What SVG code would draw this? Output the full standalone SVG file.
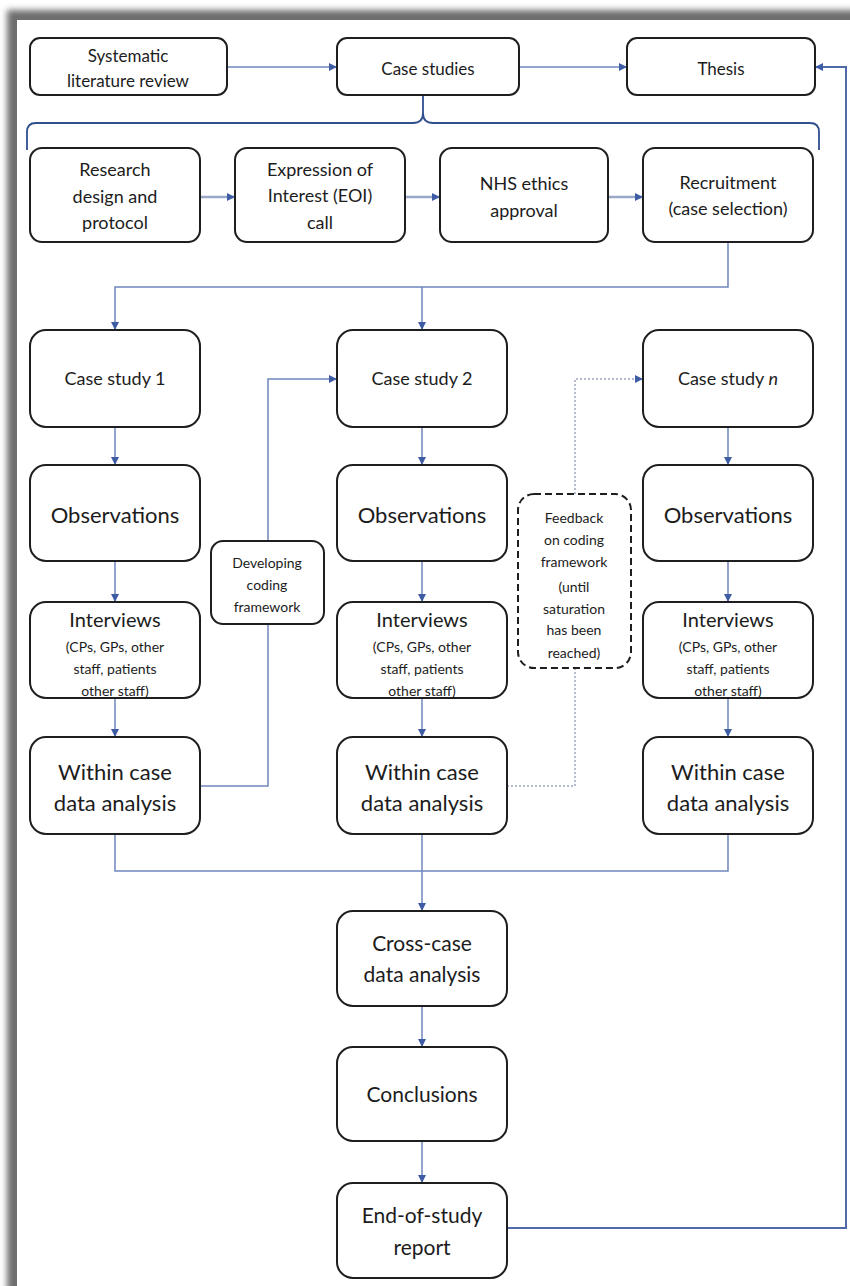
<svg xmlns="http://www.w3.org/2000/svg" width="850" height="1286" viewBox="0 0 850 1286">
  <defs>
    <filter id="soft" x="-5%" y="-5%" width="110%" height="110%">
      <feGaussianBlur stdDeviation="3"/>
    </filter>
    <marker id="arrow" viewBox="0 0 8 8" refX="8" refY="4" markerWidth="8" markerHeight="8" markerUnits="userSpaceOnUse" orient="auto">
      <path d="M0,0 L8,4 L0,8 z" fill="#3d5ca3"/>
    </marker>
    <style>
      .box { fill: #ffffff; stroke: #1e1e1e; stroke-width: 2; }
      .dash { fill: #ffffff; stroke: #1e1e1e; stroke-width: 2; stroke-dasharray: 7 4; }
      .t { font-family: Lato, "Liberation Sans", sans-serif; fill: #1c1c1c; text-anchor: middle; dominant-baseline: central; }
      .s17 { font-size: 17px; }
      .s18 { font-size: 18px; }
      .s20 { font-size: 20px; }
      .s21 { font-size: 21px; }
      .s22 { font-size: 22px; }
      .s14 { font-size: 14px; }
      .line { fill: none; stroke: #6f86bd; stroke-width: 1.5; }
      .thick { fill: none; stroke: #9aa8c8; stroke-width: 2.5; }
      .dark { fill: none; stroke: #4f6aa8; stroke-width: 2; }
      .dot { fill: none; stroke: #9aa5c0; stroke-width: 1.5; stroke-dasharray: 2 2; }
      .brace { fill: none; stroke: #2f4f8f; stroke-width: 1.8; }
    </style>
  </defs>

  <!-- page frame with shadow on top and left -->
  <rect x="0" y="0" width="850" height="1286" fill="#ffffff"/>
  <rect x="7" y="10" width="870" height="1300" fill="#6e6e6e" filter="url(#soft)"/>
  <rect x="17" y="20" width="840" height="1280" fill="#ffffff"/>

  <!-- connectors -->
  <g id="connectors">
    <path class="line" d="M227,67 H337" marker-end="url(#arrow)"/>
    <path class="line" d="M519,67 H627" marker-end="url(#arrow)"/>
    <path class="brace" d="M27,150 V132 Q27,123 36,123 H413 Q423,123 423,113 V95 M819,150 V132 Q819,123 810,123 H433 Q423,123 423,113"/>
    <path class="thick" d="M200,197 H235" marker-end="url(#arrow)"/>
    <path class="thick" d="M405,197 H440" marker-end="url(#arrow)"/>
    <path class="thick" d="M608,197 H643" marker-end="url(#arrow)"/>
    <path class="line" d="M728,242 V287 H115 V330" marker-end="url(#arrow)"/>
    <path class="line" d="M422,287 V330" marker-end="url(#arrow)"/>
    <path class="line" d="M115,427 V465" marker-end="url(#arrow)"/>
    <path class="line" d="M115,561 V602" marker-end="url(#arrow)"/>
    <path class="line" d="M115,698 V737" marker-end="url(#arrow)"/>
    <path class="line" d="M422,427 V465" marker-end="url(#arrow)"/>
    <path class="line" d="M422,561 V602" marker-end="url(#arrow)"/>
    <path class="line" d="M422,698 V737" marker-end="url(#arrow)"/>
    <path class="line" d="M728,427 V465" marker-end="url(#arrow)"/>
    <path class="line" d="M728,561 V602" marker-end="url(#arrow)"/>
    <path class="line" d="M728,698 V737" marker-end="url(#arrow)"/>
    <path class="line" d="M200,786 H268 V624"/>
    <path class="line" d="M268,541 V379 H337" marker-end="url(#arrow)"/>
    <path class="dot" d="M507,786 H575 V668"/>
    <path class="dot" d="M575,494 V379 H643" marker-end="url(#arrow)"/>
    <path class="line" d="M115,834 V871 H728 V834"/>
    <path class="line" d="M422,834 V911" marker-end="url(#arrow)"/>
    <path class="line" d="M422,1006 V1047" marker-end="url(#arrow)"/>
    <path class="line" d="M422,1141 V1183" marker-end="url(#arrow)"/>
    <path class="dark" d="M507,1228 H846 V67 H815" marker-end="url(#arrow)"/>
  </g>

  <!-- top row -->
  <g id="slr">
    <rect class="box" x="30" y="38" width="197" height="57" rx="10"/>
    <text class="t s17" x="128" y="55">Systematic</text>
    <text class="t s17" x="128" y="80">literature review</text>
  </g>
  <g id="case-studies">
    <rect class="box" x="337" y="38" width="182" height="57" rx="10"/>
    <text class="t s17" x="428" y="68">Case studies</text>
  </g>
  <g id="thesis">
    <rect class="box" x="627" y="38" width="188" height="57" rx="10"/>
    <text class="t s17" x="721" y="68">Thesis</text>
  </g>

  <!-- preparation row -->
  <g id="design">
    <rect class="box" x="30" y="148" width="170" height="94" rx="12"/>
    <text class="t s18" x="115" y="169">Research</text>
    <text class="t s18" x="115" y="196">design and</text>
    <text class="t s18" x="115" y="222">protocol</text>
  </g>
  <g id="eoi">
    <rect class="box" x="235" y="148" width="170" height="94" rx="12"/>
    <text class="t s18" x="320" y="169">Expression of</text>
    <text class="t s18" x="320" y="195">Interest (EOI)</text>
    <text class="t s18" x="320" y="222">call</text>
  </g>
  <g id="ethics">
    <rect class="box" x="440" y="148" width="168" height="94" rx="12"/>
    <text class="t s18" x="524" y="183">NHS ethics</text>
    <text class="t s18" x="524" y="210">approval</text>
  </g>
  <g id="recruitment">
    <rect class="box" x="643" y="148" width="170" height="94" rx="12"/>
    <text class="t s18" x="728" y="182">Recruitment</text>
    <text class="t s18" x="728" y="208">(case selection)</text>
  </g>

  <!-- case study 1 -->
  <g id="case1">
    <rect class="box" x="30" y="330" width="170" height="97" rx="16"/>
    <text class="t s18" x="115" y="378">Case study 1</text>
  </g>
  <g id="obs1">
    <rect class="box" x="30" y="465" width="170" height="96" rx="16"/>
    <text class="t s22" x="115" y="514">Observations</text>
  </g>
  <g id="int1">
    <rect class="box" x="30" y="602" width="170" height="96" rx="16"/>
    <text class="t s20" x="115" y="619">Interviews</text>
    <text class="t s14" x="115" y="646">(CPs, GPs, other</text>
    <text class="t s14" x="115" y="668">staff, patients</text>
    <text class="t s14" x="115" y="690">other staff)</text>
  </g>
  <g id="within1">
    <rect class="box" x="30" y="737" width="170" height="97" rx="16"/>
    <text class="t s22" x="115" y="771">Within case</text>
    <text class="t s22" x="115" y="802">data analysis</text>
  </g>

  <!-- case study 2 -->
  <g id="case2">
    <rect class="box" x="337" y="330" width="170" height="97" rx="16"/>
    <text class="t s18" x="422" y="378">Case study 2</text>
  </g>
  <g id="obs2">
    <rect class="box" x="337" y="465" width="170" height="96" rx="16"/>
    <text class="t s22" x="422" y="514">Observations</text>
  </g>
  <g id="int2">
    <rect class="box" x="337" y="602" width="170" height="96" rx="16"/>
    <text class="t s20" x="422" y="619">Interviews</text>
    <text class="t s14" x="422" y="646">(CPs, GPs, other</text>
    <text class="t s14" x="422" y="668">staff, patients</text>
    <text class="t s14" x="422" y="690">other staff)</text>
  </g>
  <g id="within2">
    <rect class="box" x="337" y="737" width="170" height="97" rx="16"/>
    <text class="t s22" x="422" y="771">Within case</text>
    <text class="t s22" x="422" y="802">data analysis</text>
  </g>

  <!-- case study n -->
  <g id="casen">
    <rect class="box" x="643" y="330" width="170" height="97" rx="16"/>
    <text class="t s18" x="728" y="378">Case study <tspan font-style="italic">n</tspan></text>
  </g>
  <g id="obsn">
    <rect class="box" x="643" y="465" width="170" height="96" rx="16"/>
    <text class="t s22" x="728" y="514">Observations</text>
  </g>
  <g id="intn">
    <rect class="box" x="643" y="602" width="170" height="96" rx="16"/>
    <text class="t s20" x="728" y="619">Interviews</text>
    <text class="t s14" x="728" y="646">(CPs, GPs, other</text>
    <text class="t s14" x="728" y="668">staff, patients</text>
    <text class="t s14" x="728" y="690">other staff)</text>
  </g>
  <g id="withinn">
    <rect class="box" x="643" y="737" width="170" height="97" rx="16"/>
    <text class="t s22" x="728" y="771">Within case</text>
    <text class="t s22" x="728" y="802">data analysis</text>
  </g>

  <!-- coding framework notes -->
  <g id="developing">
    <rect class="box" x="211" y="541" width="113" height="83" rx="12"/>
    <text class="t s14" x="267" y="562">Developing</text>
    <text class="t s14" x="267" y="584">coding</text>
    <text class="t s14" x="267" y="606">framework</text>
  </g>
  <g id="feedback">
    <rect class="dash" x="518" y="494" width="113" height="174" rx="16"/>
    <text class="t s14" x="574" y="517">Feedback</text>
    <text class="t s14" x="574" y="539">on coding</text>
    <text class="t s14" x="574" y="561">framework</text>
    <text class="t s14" x="574" y="586">(until</text>
    <text class="t s14" x="574" y="608">saturation</text>
    <text class="t s14" x="574" y="629">has been</text>
    <text class="t s14" x="574" y="652">reached)</text>
  </g>

  <!-- synthesis -->
  <g id="crosscase">
    <rect class="box" x="337" y="911" width="170" height="95" rx="16"/>
    <text class="t s21" x="422" y="942">Cross-case</text>
    <text class="t s21" x="422" y="973">data analysis</text>
  </g>
  <g id="conclusions">
    <rect class="box" x="337" y="1047" width="170" height="94" rx="16"/>
    <text class="t s21" x="422" y="1093">Conclusions</text>
  </g>
  <g id="report">
    <rect class="box" x="337" y="1183" width="170" height="95" rx="16"/>
    <text class="t s21" x="422" y="1214">End-of-study</text>
    <text class="t s21" x="422" y="1246">report</text>
  </g>
</svg>
